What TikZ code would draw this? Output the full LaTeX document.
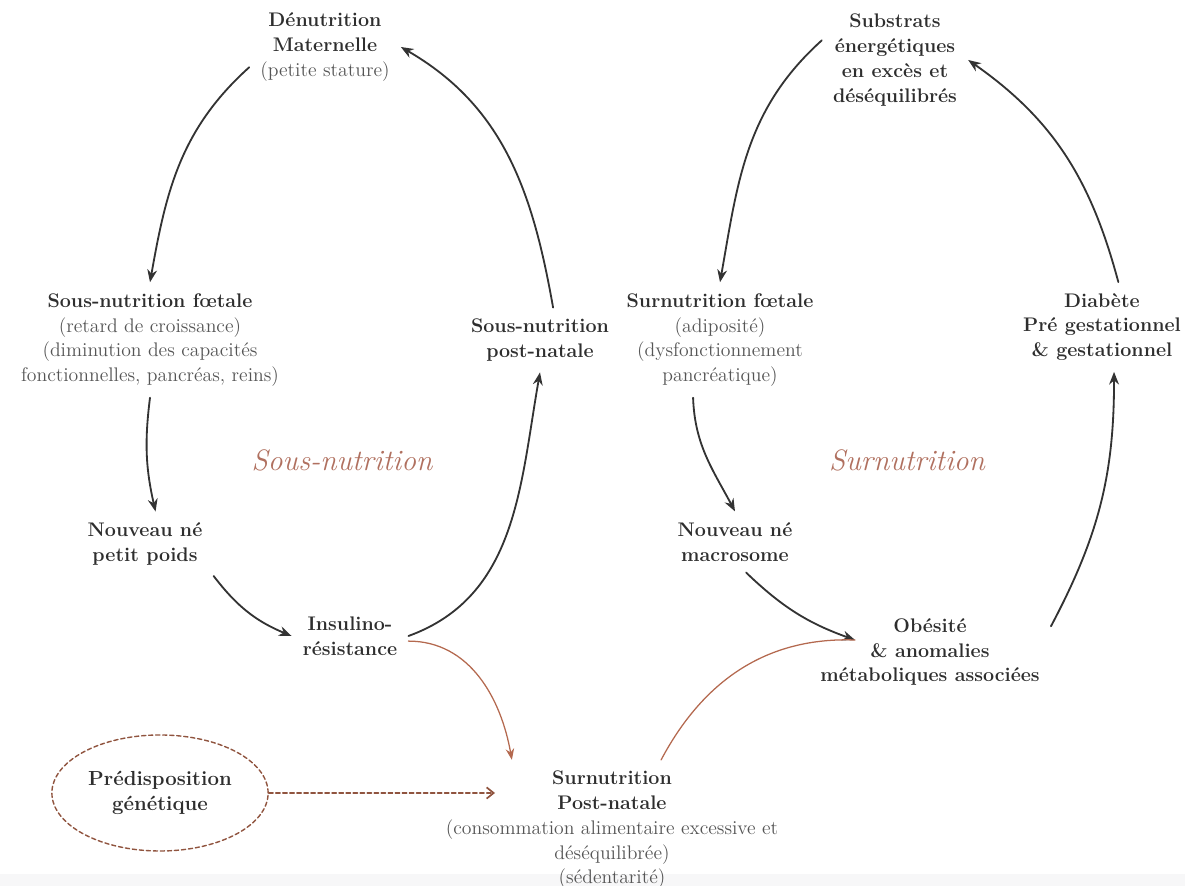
\documentclass[tikz,border=0pt]{standalone}
\usepackage{tikz}
\usetikzlibrary{arrows.meta,shapes.geometric}
\definecolor{txt}{HTML}{2E2E2E}
\definecolor{note}{HTML}{555555}
\definecolor{rust}{HTML}{B4694F}
\definecolor{rusttxt}{HTML}{B0705F}
\newcommand{\pn}[1]{{\mdseries\color{note}#1}}

\begin{document}
\begin{tikzpicture}[x=0.025cm, y=0.025cm, line cap=round, line join=round,
  lbl/.style={align=center, text=txt, font=\fontsize{14}{17.6}\selectfont\bfseries, inner sep=2pt, outer sep=6pt},
  cyclelbl/.style={text=rusttxt, font=\fontsize{21}{24}\selectfont\itshape},
  cyc/.style={-{Stealth[length=9pt,width=7pt]}, line width=1.3pt, black!80},
  rustln/.style={line width=0.9pt, rust},
  gen/.style={ellipse, draw=rust!80!black, densely dashed, line width=1pt,
    minimum width=3.75cm, minimum height=2.9cm, align=center, text=txt,
    font=\fontsize{14.5}{18}\selectfont\bfseries}]

\useasboundingbox (0,0) rectangle (1185,886);
\fill[blue!3!gray!6] (0,0) rectangle (1185,12);

% sous-nutrition cycle
\node[lbl] (D) at (325,839) {D\'enutrition\\Maternelle\\\pn{(petite stature)}};
\node[lbl] (F) at (150,546) {Sous-nutrition f\oe tale\\\pn{(retard de croissance)}\\\pn{(diminution des capacit\'es}\\\pn{fonctionnelles, pancr\'eas, reins)}};
\node[lbl] (P) at (540,546) {Sous-nutrition\\post-natale};
\node[lbl] (NN) at (145,342) {Nouveau n\'e\\petit poids};
\node[lbl] (IR) at (350,250) {Insulino-\\r\'esistance};
\node[cyclelbl] (SN) at (342,426) {Sous-nutrition};

% surnutrition cycle
\node[lbl] (S) at (895,826) {Substrats\\\'energ\'etiques\\en exc\`es et\\d\'es\'equilibr\'es};
\node[lbl] (SF) at (720,546) {Surnutrition f\oe tale\\\pn{(adiposit\'e)}\\\pn{(dysfonctionnement}\\\pn{pancr\'eatique)}};
\node[lbl] (DB) at (1102,559) {Diab\`ete\\Pr\'e gestationnel\\\& gestationnel};
\node[lbl] (NM) at (735,344) {Nouveau n\'e\\macrosome};
\node[lbl] (OB) at (930,234) {Ob\'esit\'e\\\& anomalies\\m\'etaboliques associ\'ees};
\node[cyclelbl] (SU) at (907,426) {Surnutrition};
\coordinate (obin) at (855,246);

% bridge
\node[lbl] (SPN) at (612,56) {Surnutrition\\Post-natale\\\pn{(consommation alimentaire excessive et}\\\pn{d\'es\'equilibr\'ee)}\\\pn{(s\'edentarit\'e)}};
\node[gen] (GEN) at (160,93) {Pr\'edisposition\\g\'en\'etique};
\coordinate (gtip) at (495,93);

% arrows, left cycle
\draw[cyc] (D.195) to[out=222, in=80] (F.north);
\draw[cyc] (F.south) to[bend right=10] (NN.72);
\draw[cyc] (NN.-25) to[bend right=15] (IR.west);
\draw[cyc] (IR.east) to[out=20, in=-100] (P.south);
\draw[cyc] (P.68) to[out=100, in=-30] (D.east);

% arrows, right cycle
\draw[cyc] (S.165) to[out=222, in=80] (SF.north);
\draw[cyc] (SF.-115) to[out=-88, in=118] (NM.north);
\draw[cyc] (NM.-70) to[bend right=12] (obin);
\draw[cyc] (OB.12) to[bend right=14] (DB.-75);
\draw[cyc] (DB.70) to[out=105, in=-35] (S.east);

% links through post-natal overnutrition
\draw[rustln, -{Stealth[length=8pt,width=6pt]}] (IR.-5) to[out=0, in=100] (SPN.145);
\draw[rustln] (SPN.55) to[out=62, in=178] (obin);
\draw[rust!80!black, densely dashed, line width=1.2pt, -{Straight Barb[length=5pt,width=8pt]}] (GEN.east) -- (gtip);

\end{tikzpicture}
\end{document}
